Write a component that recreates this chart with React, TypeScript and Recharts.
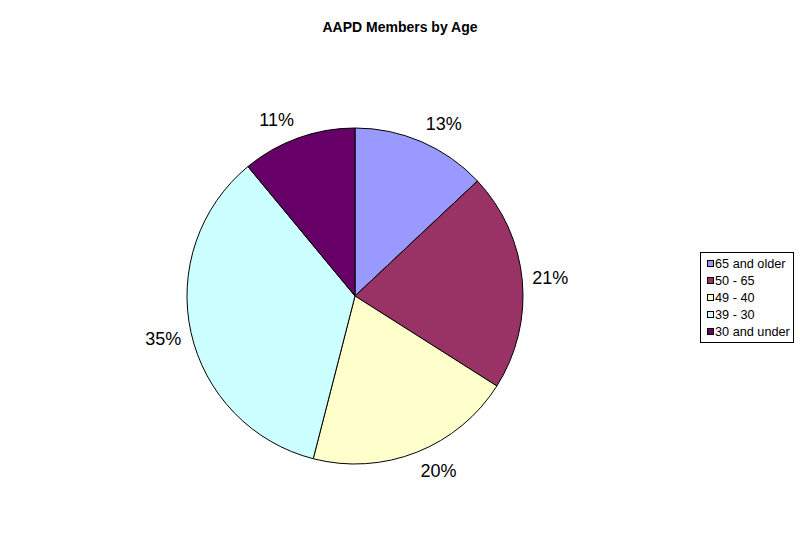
import React from 'react';
import { PieChart, Pie, Cell, Legend } from 'recharts';

const categories = ['65 and older', '50 - 65', '49 - 40', '39 - 30', '30 and under'];
const shares = [13, 21, 20, 35, 11];
const colors = ['#9999FF', '#993366', '#FFFFCC', '#CCFFFF', '#660066'];

const data = categories.map((name, i) => ({ name, value: shares[i] }));

const RADIAN = Math.PI / 180;
const clamp = (v: number) => Math.max(-1, Math.min(1, v));

// Excel-style outside labels: the box corner nearest the pie sits on an anchor ring
function renderLabel(props: any) {
  const { cx, cy, midAngle, value } = props;
  const r0 = 178;
  const c = Math.cos(-midAngle * RADIAN);
  const s = Math.sin(-midAngle * RADIAN);
  const x = cx + r0 * c + 18 * clamp(c * 3);
  const y = cy + r0 * s + 9 * clamp(s * 2);
  return (
    <text
      x={x}
      y={y}
      textAnchor="middle"
      dominantBaseline="central"
      fill="#000"
      fontSize={18}
      fontFamily="Liberation Sans, Arial, sans-serif"
    >
      {value}%
    </text>
  );
}

function LegendBox() {
  return (
    <div
      style={{
        border: '1px solid #000',
        background: '#fff',
        padding: '2px 3px 2px 6px',
        fontFamily: 'Liberation Sans, Arial, sans-serif',
        fontSize: 12.7,
        color: '#000',
      }}
    >
      {categories.map((c, i) => (
        <div key={c} style={{ display: 'flex', alignItems: 'center', height: 17 }}>
          <span
            style={{
              width: 5,
              height: 5,
              border: '1px solid #000',
              background: colors[i],
              marginRight: 1,
              display: 'inline-block',
            }}
          />
          <span>{c}</span>
        </div>
      ))}
    </div>
  );
}

export default function App() {
  return (
    <div style={{ position: 'absolute', left: 0, top: 0, width: 800, height: 547, background: '#fff' }}>
      <div
        style={{
          position: 'absolute',
          left: 0,
          top: 19,
          width: 800,
          textAlign: 'center',
          fontFamily: 'Liberation Sans, Arial, sans-serif',
          fontWeight: 'bold',
          fontSize: 14,
          color: '#000',
        }}
      >
        AAPD Members by Age
      </div>
      <PieChart width={800} height={547} margin={{ top: 0, right: 0, bottom: 0, left: 0 }}>
        <Pie
          data={data}
          dataKey="value"
          nameKey="name"
          cx={355}
          cy={296}
          outerRadius={168}
          startAngle={90}
          endAngle={-270}
          stroke="#000"
          strokeWidth={1}
          label={renderLabel}
          labelLine={false}
          isAnimationActive={false}
        >
          {data.map((d, i) => (
            <Cell key={d.name} fill={colors[i]} />
          ))}
        </Pie>
        <Legend
          content={<LegendBox />}
          wrapperStyle={{ position: 'absolute', left: 700, top: 252, width: 'auto' }}
        />
      </PieChart>
    </div>
  );
}
